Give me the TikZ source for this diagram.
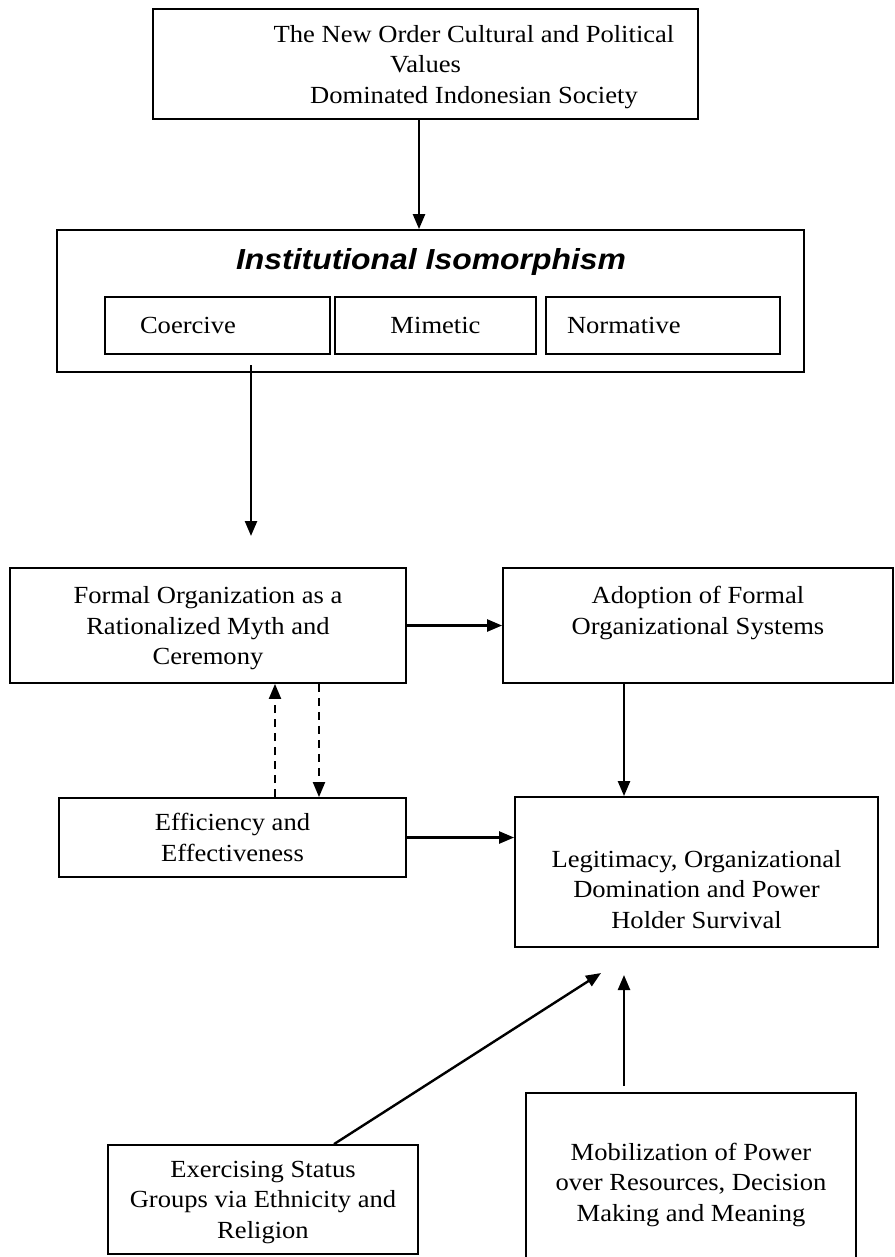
\documentclass[tikz,border=0pt]{standalone}
\usepackage{fontspec}
\setmainfont[FakeStretch=1.08]{Liberation Serif}
\newfontfamily\titlefont[FakeStretch=1.1]{Liberation Sans}
\usetikzlibrary{arrows.meta}

\begin{document}
\begin{tikzpicture}[x=0.5pt, y=-0.5pt,
    box/.style={draw, line width=0.9pt, align=center, inner sep=0pt, text depth=0pt,
        font=\fontsize{12.3}{15.25}\selectfont},
    arr/.style={line width=1.2pt, -{Triangle[length=7.5pt, width=6pt]}},
    darr/.style={arr, line width=1pt, dash pattern=on 4pt off 3pt}]
    \useasboundingbox (0,0) rectangle (894,1257);

    % Define nodes
    \node[box, minimum width=272.5pt, minimum height=55pt] (values) at (425.5,64)
        {\hspace*{48.5pt}The New Order Cultural and Political\\Values\\
         \hspace*{48.5pt}Dominated Indonesian Society};

    \node[box, minimum width=373.5pt, minimum height=71pt] (iso) at (430.5,301) {};
    \node[font=\titlefont\fontsize{14.5}{17}\selectfont\bfseries\itshape] (isotitle) at (431,262)
        {Institutional Isomorphism};
    \node[box, minimum height=28.5pt, text width=77.5pt, align=left, inner xsep=17.5pt]
        (coercive) at (217.5,325.5) {Coercive};
    \node[box, minimum height=28.5pt, text width=100.5pt] (mimetic) at (435.5,325.5) {Mimetic};
    \node[box, minimum height=28.5pt, text width=96pt, align=left, inner xsep=10.5pt]
        (normative) at (663,325.5) {Normative};

    \node[box, minimum width=198pt, minimum height=57.5pt] (formal) at (208,625.5)
        {Formal Organization as a\\Rationalized Myth and\\Ceremony};
    \node[box, minimum width=195pt, minimum height=57.5pt] (adoption) at (698,625.5)
        {Adoption of Formal\\Organizational Systems\\\strut};
    \node[box, minimum width=173.5pt, minimum height=39.5pt] (effic) at (232.5,837.5)
        {Efficiency and\\Effectiveness};
    \node[box, minimum width=181.5pt, minimum height=75pt] (legit) at (696.5,872)
        {\strut\\Legitimacy, Organizational\\Domination and Power\\Holder Survival};
    \node[box, minimum width=155pt, minimum height=54.5pt] (status) at (263,1199.5)
        {Exercising Status\\Groups via Ethnicity and\\Religion};
    \node[box, minimum width=165pt, minimum height=89pt] (mobil) at (691,1182)
        {Mobilization of Power\\over Resources, Decision\\Making and Meaning};

    % Free ends of the open arrows
    \coordinate (isoout) at (251,365);
    \coordinate (formalin) at (251,536);
    \coordinate (legitin1) at (601,973);
    \coordinate (legitin2) at (624,975);
    \coordinate (mobilout) at (624,1086);

    % Draw solid arrows
    \draw[arr] ([xshift=-3.25pt]values.south) -- ([xshift=-3.25pt]values.south |- iso.north);
    \draw[arr] (isoout) -- (formalin);
    \draw[arr] (formal.east) -- (adoption.west);
    \draw[arr] ([xshift=-37pt]adoption.south) -- ([xshift=-37pt]adoption.south |- legit.north);
    \draw[arr] (effic.east) -- (effic.east -| legit.west);
    \draw[arr] ([xshift=35.5pt]status.north) -- (legitin1);
    \draw[arr] (mobilout) -- (legitin2);

    % Draw dashed arrows
    \draw[darr] ([xshift=21.25pt]effic.north) -- ([xshift=21.25pt]effic.north |- formal.south);
    \draw[darr] ([xshift=55.5pt]formal.south) -- ([xshift=55.5pt]formal.south |- effic.north);
\end{tikzpicture}
\end{document}
